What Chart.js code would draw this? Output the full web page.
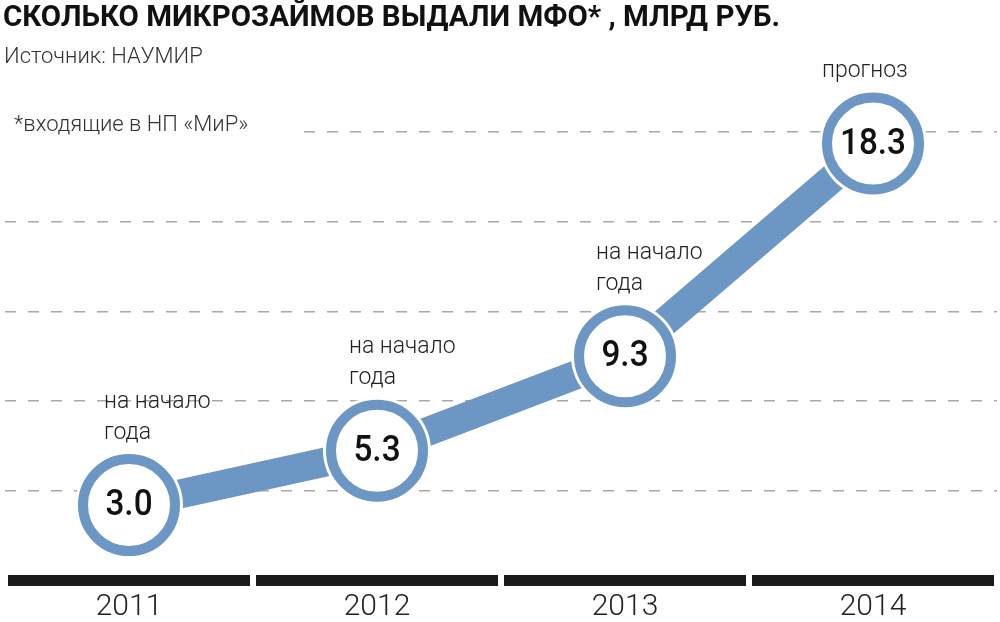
<!DOCTYPE html>
<html>
<head>
<meta charset="utf-8">
<script src="https://cdn.jsdelivr.net/npm/chart.js@4/dist/chart.umd.min.js"></script>
<style>
  html, body { margin: 0; padding: 0; background: #fff; }
  #wrap { width: 1000px; height: 622px; position: relative; }
</style>
</head>
<body>
<div id="wrap"><canvas id="loansChart"></canvas></div>
<script>
const years = ["2011", "2012", "2013", "2014"];
const loans = [3.0, 5.3, 9.3, 18.3];
const notes = [["на начало", "года"], ["на начало", "года"], ["на начало", "года"], ["прогноз"]];
const gridValues = [3.6, 7.4, 11.2, 15.0, 18.8];

const blue = "#6c96c3";
const ctx = document.getElementById("loansChart").getContext("2d");

// fit text into a given width by squeezing it horizontally
function drawFit(c, text, x, y, width) {
  const w = c.measureText(text).width;
  const s = width && w > width ? width / w : 1;
  c.save();
  c.translate(x, y);
  c.scale(s, 1);
  c.fillText(text, 0, 0);
  c.restore();
}

const decor = {
  id: "decor",
  afterDraw(chart) {
    const c = chart.ctx;
    const area = chart.chartArea;
    const xs = chart.scales.x;
    const step = xs.getPixelForValue(1) - xs.getPixelForValue(0);

    // black baseline segments
    c.fillStyle = "#1a1a1a";
    years.forEach((y, i) => {
      const cx = xs.getPixelForValue(i);
      c.fillRect(cx - step / 2 + 3, area.bottom - 1, step - 6, 11);
    });

    // values in circles and notes
    const meta = chart.getDatasetMeta(2);
    const noteDx = [-25, -28, -29, -51];
    meta.data.forEach((pt, i) => {
      c.fillStyle = "#111";
      c.font = "500 37px Roboto";
      c.textBaseline = "middle";
      c.textAlign = "center";
      c.save();
      c.translate(pt.x, pt.y + 1);
      c.scale(0.9, 1);
      c.fillText(loans[i].toFixed(1), 0, 0);
      c.restore();

      c.fillStyle = "#222";
      c.font = "300 23px Roboto";
      c.textAlign = "left";
      const lines = notes[i];
      lines.forEach((t, k) => {
        const dy = -72 - (lines.length - 1 - k) * 31;
        c.fillText(t, pt.x + noteDx[i], pt.y + dy);
      });
    });

    // header texts
    c.textAlign = "left";
    c.textBaseline = "middle";
    c.fillStyle = "#111";
    c.font = "bold 30px Roboto";
    drawFit(c, "СКОЛЬКО МИКРОЗАЙМОВ ВЫДАЛИ МФО* , МЛРД РУБ.", 3, 18, 777);
    c.fillStyle = "#333";
    c.font = "300 22px Roboto";
    drawFit(c, "Источник: НАУМИР", 4, 57, 222);
    c.fillStyle = "#fff";
    c.fillRect(0, 112, 296, 28);
    c.fillStyle = "#333";
    drawFit(c, "*входящие в НП «МиР»", 14, 125, 275);
  }
};

new Chart(ctx, {
  type: "line",
  data: {
    labels: years,
    datasets: [
      {
        data: loans,
        borderColor: blue,
        borderWidth: 29,
        pointRadius: 0,
        tension: 0,
        order: 3,
      },
      {
        data: loans,
        showLine: false,
        pointRadius: 54,
        pointBorderWidth: 0,
        pointBackgroundColor: "#fff",
        order: 2,
      },
      {
        data: loans,
        showLine: false,
        pointRadius: 46,
        pointBorderWidth: 10,
        pointBorderColor: blue,
        pointBackgroundColor: "#fff",
        order: 1,
      },
    ],
  },
  options: {
    responsive: true,
    maintainAspectRatio: false,
    animation: false,
    events: [],
    layout: { autoPadding: false, padding: { left: 5, right: 3, top: 56, bottom: 0 } },
    plugins: { legend: { display: false }, tooltip: { enabled: false } },
    scales: {
      x: {
        offset: true,
        grid: { display: false, drawTicks: false },
        border: { display: false },
        afterFit: (scale) => { scale.height = 46; },
        ticks: {
          padding: 16,
          color: "#222",
          font: { family: "Roboto", size: 30, weight: "300", lineHeight: 1 },
        },
      },
      y: {
        min: 0,
        max: 22,
        afterBuildTicks: (scale) => {
          scale.ticks = gridValues.map((v) => ({ value: v }));
        },
        ticks: { display: false },
        grid: { color: "#a8a8a8", lineWidth: 1.5, drawTicks: false },
        border: { display: false, dash: [11, 12] },
      },
    },
  },
  plugins: [decor],
});
</script>
</body>
</html>
